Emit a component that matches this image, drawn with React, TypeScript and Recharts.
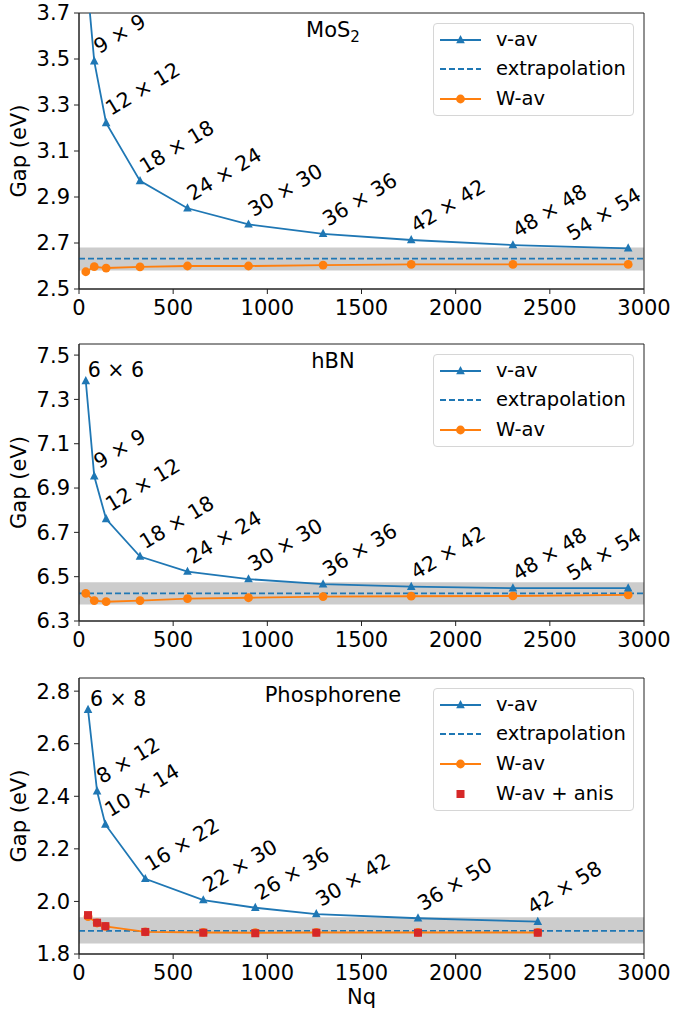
import React from 'react';
import {
  ComposedChart,
  Line,
  Scatter,
  XAxis,
  YAxis,
  ReferenceArea,
  ReferenceLine,
  LabelList,
} from 'recharts';

const FONT = '"DejaVu Sans", sans-serif';
const BLUE = '#1f77b4';
const ORANGE = '#ff7f0e';
const RED = '#d62728';
const AXIS = '#222';

const xTicks = [0, 500, 1000, 1500, 2000, 2500, 3000];
const xDomain = [0, 3000];

// ---- MoS2 ----
const mosNq = [36, 81, 144, 324, 576, 900, 1296, 1764, 2304, 2916];
const mosGrid = ['6 × 6', '9 × 9', '12 × 12', '18 × 18', '24 × 24', '30 × 30', '36 × 36', '42 × 42', '48 × 48', '54 × 54'];
const mosVav = [3.9, 3.49, 3.222, 2.97, 2.851, 2.781, 2.74, 2.713, 2.691, 2.677];
const mosWav = [2.575, 2.597, 2.591, 2.596, 2.6, 2.6, 2.604, 2.607, 2.607, 2.607];
const mosExtrap = 2.632;
const mosBand = [2.58, 2.68];
const mosYDomain = [2.5, 3.7];
const mosYTicks = [2.5, 2.7, 2.9, 3.1, 3.3, 3.5, 3.7];

// ---- hBN ----
const hbnNq = [36, 81, 144, 324, 576, 900, 1296, 1764, 2304, 2916];
const hbnGrid = ['6 × 6', '9 × 9', '12 × 12', '18 × 18', '24 × 24', '30 × 30', '36 × 36', '42 × 42', '48 × 48', '54 × 54'];
const hbnVav = [7.383, 6.953, 6.76, 6.591, 6.523, 6.489, 6.466, 6.455, 6.448, 6.448];
const hbnWav = [6.425, 6.392, 6.387, 6.392, 6.401, 6.405, 6.41, 6.412, 6.413, 6.418];
const hbnExtrap = 6.425;
const hbnBand = [6.375, 6.475];
const hbnYDomain = [6.3, 7.55];
const hbnYTicks = [6.3, 6.5, 6.7, 6.9, 7.1, 7.3, 7.5];

// ---- Phosphorene ----
const phNq = [48, 96, 140, 352, 660, 936, 1260, 1800, 2436];
const phGrid = ['6 × 8', '8 × 12', '10 × 14', '16 × 22', '22 × 30', '26 × 36', '30 × 42', '36 × 50', '42 × 58'];
const phVav = [2.729, 2.419, 2.293, 2.086, 2.005, 1.976, 1.952, 1.936, 1.923];
const phWav = [1.942, 1.918, 1.905, 1.884, 1.882, 1.881, 1.882, 1.882, 1.882];
const phWavAnis = [1.948, 1.919, 1.906, 1.884, 1.881, 1.879, 1.881, 1.881, 1.881];
const phExtrap = 1.888;
const phBand = [1.84, 1.94];
const phYDomain = [1.8, 2.85];
const phYTicks = [1.8, 2.0, 2.2, 2.4, 2.6, 2.8];

const legendBase = [
  { name: 'v-av', kind: 'tri' },
  { name: 'extrapolation', kind: 'dash' },
  { name: 'W-av', kind: 'circ' },
];
const legendPhos = [...legendBase, { name: 'W-av + anis', kind: 'sq' }];

const Tri = (props: any) => {
  const { cx, cy, index } = props;
  if (cx == null || cy == null) return <g key={`t${index}`} />;
  const s = 4.3;
  return (
    <path
      key={`t${index}`}
      d={`M${cx},${cy - s * 1.15} L${cx + s},${cy + s * 0.75} L${cx - s},${cy + s * 0.75} Z`}
      fill={BLUE}
    />
  );
};

const Circ = (props: any) => {
  const { cx, cy, index } = props;
  if (cx == null || cy == null) return <g key={`c${index}`} />;
  return <circle key={`c${index}`} cx={cx} cy={cy} r={4.4} fill={ORANGE} />;
};

const Sq = (props: any) => {
  const { cx, cy } = props;
  if (cx == null || cy == null) return <g />;
  return <rect x={cx - 4} y={cy - 4} width={8} height={8} fill={RED} />;
};

function LegendBox({ items, top }: { items: { name: string; kind: string }[]; top: number }) {
  const rowH = 29.7;
  const h = 16.5 + rowH * (items.length - 1) + 17.5;
  return (
    <div
      style={{
        position: 'absolute',
        left: 433,
        top,
        width: 201,
        height: h,
        border: '1px solid #d6d6d6',
        borderRadius: 4,
        background: 'rgba(255,255,255,0.85)',
        boxSizing: 'border-box',
        fontFamily: FONT,
        fontSize: 19.5,
        color: '#000',
      }}
    >
      {items.map((it, i) => {
        const cy = 16.5 + rowH * i - 1;
        return (
          <div key={it.name} style={{ position: 'absolute', left: 0, top: cy - 12, height: 24, width: 200 }}>
            <svg width={50} height={24} style={{ position: 'absolute', left: 0, top: 0 }}>
              {it.kind === 'tri' && (
                <g>
                  <line x1={6} y1={12} x2={47} y2={12} stroke={BLUE} strokeWidth={1.8} />
                  <path d="M26.5,7 L30.8,15.2 L22.2,15.2 Z" fill={BLUE} />
                </g>
              )}
              {it.kind === 'dash' && (
                <line x1={6} y1={12} x2={47} y2={12} stroke={BLUE} strokeWidth={1.8} strokeDasharray="6 3" />
              )}
              {it.kind === 'circ' && (
                <g>
                  <line x1={6} y1={12} x2={47} y2={12} stroke={ORANGE} strokeWidth={1.8} />
                  <circle cx={26.5} cy={12} r={4.4} fill={ORANGE} />
                </g>
              )}
              {it.kind === 'sq' && <rect x={22.5} y={8} width={8} height={8} fill={RED} />}
            </svg>
            <span style={{ position: 'absolute', left: 62, top: 0, lineHeight: '24px', whiteSpace: 'nowrap' }}>
              {it.name}
            </span>
          </div>
        );
      })}
    </div>
  );
}

type PanelProps = {
  top: number;
  height: number;
  marginTop: number;
  marginBottom: number;
  xAxisHeight: number;
  nq: number[];
  grid: string[];
  vav: number[];
  wav: number[];
  anis?: number[];
  extrap: number;
  band: number[];
  yDomain: number[];
  yTicks: number[];
  title: React.ReactNode;
  flatFirst: boolean;
  lastShift: number;
  legend: { name: string; kind: string }[];
  xLabel?: string;
};

function Panel(p: PanelProps) {
  const rows = p.nq.map((n, i) => ({
    nq: n,
    vav: p.vav[i],
    wav: p.wav[i],
    anis: p.anis ? p.anis[i] : undefined,
    grid: p.grid[i],
  }));
  const last = rows.length - 1;
  const plotH = p.height - p.marginTop - p.marginBottom - p.xAxisHeight;

  const renderGridLabel = (lp: any) => {
    const { x, y, value, index } = lp;
    if (x == null || y == null) return null;
    if (rows[index].vav > p.yDomain[1]) return null;
    const common = { fontFamily: FONT, fontSize: 20.5, fill: '#000' };
    if (p.flatFirst && index === 0) {
      return (
        <text key={`l${index}`} x={x + 2} y={y - 4} textAnchor="start" {...common}>
          {value}
        </text>
      );
    }
    const tx = x + (index === last ? p.lastShift : 5);
    const ty = y - 7;
    return (
      <text key={`l${index}`} x={tx} y={ty} textAnchor="start" transform={`rotate(-31 ${tx} ${ty})`} {...common}>
        {value}
      </text>
    );
  };

  const yLabel = () => {
    const cy = p.marginTop + plotH / 2;
    return (
      <text
        transform={`translate(26, ${cy}) rotate(-90)`}
        textAnchor="middle"
        fontFamily={FONT}
        fontSize={21}
        fill="#000"
      >
        Gap (eV)
      </text>
    );
  };

  const tickStyle = { fill: '#000', fontSize: 21, fontFamily: FONT };

  return (
    <div style={{ position: 'absolute', left: 0, top: p.top, width: 675, height: p.height }}>
      <ComposedChart
        width={675}
        height={p.height}
        data={rows}
        margin={{ top: p.marginTop, right: 31, bottom: p.marginBottom, left: 0 }}
      >
        <XAxis
          dataKey="nq"
          type="number"
          domain={xDomain}
          ticks={xTicks}
          interval={0}
          allowDataOverflow
          height={p.xAxisHeight}
          tickSize={5}
          tickMargin={6}
          tick={tickStyle}
          axisLine={{ stroke: AXIS, strokeWidth: 1 }}
          tickLine={{ stroke: AXIS, strokeWidth: 1 }}
          label={
            p.xLabel
              ? { value: p.xLabel, position: 'insideBottom', offset: 0, fontSize: 21, fontFamily: FONT, fill: '#000' }
              : undefined
          }
        />
        <YAxis
          type="number"
          domain={p.yDomain}
          ticks={p.yTicks}
          interval={0}
          allowDataOverflow
          width={79}
          tickSize={5}
          tickMargin={4}
          tick={tickStyle}
          tickFormatter={(v: number) => v.toFixed(1)}
          axisLine={{ stroke: AXIS, strokeWidth: 1 }}
          tickLine={{ stroke: AXIS, strokeWidth: 1 }}
          label={{ content: yLabel }}
        />
        <ReferenceArea
          x1={xDomain[0]}
          x2={xDomain[1]}
          y1={p.band[0]}
          y2={p.band[1]}
          fill="#cccccc"
          fillOpacity={1}
          stroke="none"
        />
        <ReferenceLine y={p.extrap} stroke={BLUE} strokeWidth={1.8} strokeDasharray="6 3" />
        <Line
          dataKey="wav"
          stroke={ORANGE}
          strokeWidth={1.9}
          dot={Circ}
          activeDot={false}
          isAnimationActive={false}
        />
        <Line
          dataKey="vav"
          stroke={BLUE}
          strokeWidth={1.8}
          dot={Tri}
          activeDot={false}
          isAnimationActive={false}
        >
          <LabelList dataKey="grid" content={renderGridLabel} />
        </Line>
        {p.anis && <Scatter dataKey="anis" shape={Sq} isAnimationActive={false} />}
        <ReferenceArea
          x1={xDomain[0]}
          x2={xDomain[1]}
          y1={p.yDomain[0]}
          y2={p.yDomain[1]}
          fill="none"
          stroke={AXIS}
          strokeWidth={1}
        />
      </ComposedChart>
      <div
        style={{
          position: 'absolute',
          left: 333,
          top: p.marginTop + 17,
          transform: 'translate(-50%, -50%)',
          fontFamily: FONT,
          fontSize: 21,
          lineHeight: 1,
          whiteSpace: 'nowrap',
          color: '#000',
        }}
      >
        {p.title}
      </div>
      <LegendBox items={p.legend} top={p.marginTop + 10} />
    </div>
  );
}

export default function App() {
  return (
    <div style={{ position: 'absolute', left: 0, top: 0, width: 675, height: 1011, background: '#fff' }}>
      <Panel
        top={0}
        height={330}
        marginTop={13}
        marginBottom={11}
        xAxisHeight={30}
        nq={mosNq}
        grid={mosGrid}
        vav={mosVav}
        wav={mosWav}
        extrap={mosExtrap}
        band={mosBand}
        yDomain={mosYDomain}
        yTicks={mosYTicks}
        title={
          <span>
            MoS<span style={{ fontSize: '0.72em', position: 'relative', top: '0.3em' }}>2</span>
          </span>
        }
        flatFirst={false}
        lastShift={-56}
        legend={legendBase}
      />
      <Panel
        top={330}
        height={330}
        marginTop={14}
        marginBottom={9}
        xAxisHeight={30}
        nq={hbnNq}
        grid={hbnGrid}
        vav={hbnVav}
        wav={hbnWav}
        extrap={hbnExtrap}
        band={hbnBand}
        yDomain={hbnYDomain}
        yTicks={hbnYTicks}
        title="hBN"
        flatFirst={true}
        lastShift={-56}
        legend={legendBase}
      />
      <Panel
        top={660}
        height={351}
        marginTop={18}
        marginBottom={7}
        xAxisHeight={50}
        nq={phNq}
        grid={phGrid}
        vav={phVav}
        wav={phWav}
        anis={phWavAnis}
        extrap={phExtrap}
        band={phBand}
        yDomain={phYDomain}
        yTicks={phYTicks}
        title="Phosphorene"
        flatFirst={true}
        lastShift={-5}
        legend={legendPhos}
        xLabel="Nq"
      />
    </div>
  );
}
